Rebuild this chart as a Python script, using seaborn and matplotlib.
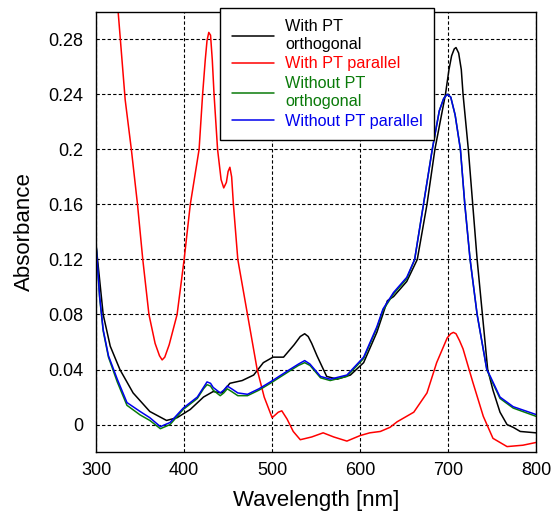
import matplotlib
matplotlib.use('Agg')
import matplotlib.pyplot as plt
import seaborn as sns

# ---- data ----
wl_black = [300, 304, 308, 316, 327, 342, 361, 380, 392, 407, 422, 433, 443, 452, 466, 479, 490, 501,
            513, 525, 532, 537, 541, 545, 551, 562, 574, 589, 604, 619, 631, 638, 653, 665, 676, 685, 697,
            701, 704, 707, 709, 712, 715, 717, 723, 728, 733, 739, 745, 751, 759, 767, 774, 782, 800]
abs_black = [0.130, 0.105, 0.080, 0.057, 0.040, 0.023, 0.0095, 0.003, 0.005, 0.011, 0.020, 0.024, 0.023,
             0.030, 0.032, 0.036, 0.045, 0.049, 0.049, 0.058, 0.064, 0.066, 0.064, 0.059, 0.050, 0.035,
             0.033, 0.036, 0.045, 0.067, 0.090, 0.093, 0.104, 0.120, 0.160, 0.200, 0.240, 0.258, 0.268,
             0.273, 0.274, 0.270, 0.258, 0.240, 0.200, 0.160, 0.120, 0.080, 0.040, 0.025, 0.009, 0.000,
             -0.002, -0.005, -0.006]

wl_red = [300, 325, 333, 340, 347, 353, 360, 367, 372, 375, 378, 383, 392, 400, 407, 417, 421, 424, 426,
          428, 430, 432, 434, 438, 442, 445, 448, 450, 452, 454, 456, 461, 472, 483, 491, 500, 507, 511,
          517, 524, 532, 545, 558, 570, 585, 600, 611, 623, 634, 642, 661, 676, 687, 699, 703, 706, 709,
          713, 717, 728, 740, 751, 767, 785, 800]
abs_red = [0.45, 0.300, 0.236, 0.200, 0.160, 0.120, 0.080, 0.059, 0.050, 0.047, 0.049, 0.058, 0.080, 0.120,
           0.160, 0.200, 0.240, 0.265, 0.279, 0.285, 0.283, 0.265, 0.240, 0.200, 0.178, 0.172, 0.176, 0.184,
           0.187, 0.180, 0.160, 0.120, 0.080, 0.040, 0.020, 0.005, 0.009, 0.010, 0.004, -0.005, -0.011,
           -0.009, -0.006, -0.009, -0.012, -0.008, -0.006, -0.005, -0.002, 0.002, 0.009, 0.023, 0.045, 0.063,
           0.066, 0.067, 0.066, 0.061, 0.055, 0.031, 0.006, -0.010, -0.016, -0.015, -0.013]

wl_green = [300, 304, 308, 314, 324, 335, 350, 361, 373, 384, 399, 415, 422, 426, 430, 433, 441, 445, 449,
            454, 461, 472, 485, 498, 520, 530, 537, 543, 555, 566, 585, 604, 619, 626, 638, 653, 662, 672,
            682, 690, 695, 699, 703, 708, 714, 719, 725, 733, 744, 748, 759, 774, 800]
abs_green = [0.130, 0.092, 0.068, 0.049, 0.031, 0.014, 0.007, 0.003, -0.003, 0.000, 0.011, 0.019, 0.026,
             0.029, 0.028, 0.025, 0.021, 0.023, 0.026, 0.024, 0.021, 0.021, 0.025, 0.030, 0.039, 0.043,
             0.045, 0.043, 0.034, 0.032, 0.035, 0.048, 0.070, 0.083, 0.095, 0.106, 0.120, 0.160, 0.200,
             0.228, 0.237, 0.240, 0.238, 0.225, 0.200, 0.160, 0.120, 0.080, 0.040, 0.034, 0.019, 0.012, 0.006]

wl_blue = [300, 304, 308, 314, 324, 335, 350, 361, 373, 384, 399, 415, 422, 426, 430, 433, 441, 445, 449,
           454, 461, 472, 485, 498, 520, 530, 537, 543, 555, 566, 585, 604, 619, 626, 638, 653, 662, 672,
           682, 690, 695, 699, 703, 708, 714, 719, 725, 733, 744, 748, 759, 774, 800]
abs_blue = [0.130, 0.093, 0.069, 0.050, 0.033, 0.016, 0.0095, 0.005, -0.0015, 0.0015, 0.012, 0.020, 0.027,
            0.031, 0.030, 0.027, 0.023, 0.025, 0.028, 0.026, 0.023, 0.022, 0.026, 0.031, 0.040, 0.044,
            0.0465, 0.044, 0.035, 0.033, 0.036, 0.049, 0.071, 0.084, 0.096, 0.107, 0.120, 0.160, 0.200,
            0.228, 0.237, 0.240, 0.238, 0.225, 0.200, 0.160, 0.120, 0.080, 0.040, 0.035, 0.020, 0.013, 0.0073]

labels = ['With PT\northogonal', 'With PT parallel', 'Without PT\northogonal', 'Without PT parallel']
colors = ['#000000', '#ff0000', '#0a7a0a', '#0000ee']
x_ticks = [300, 400, 500, 600, 700, 800]
y_ticks = [0, 0.04, 0.08, 0.12, 0.16, 0.2, 0.24, 0.28]
y_tick_labels = ['0', '0.04', '0.08', '0.12', '0.16', '0.2', '0.24', '0.28']

sns.set_style("white")
plt.rcParams['font.family'] = ['Liberation Sans', 'DejaVu Sans']
plt.rcParams.update({'text.color': 'black', 'axes.labelcolor': 'black',
                     'xtick.color': 'black', 'ytick.color': 'black'})

fig = plt.figure(figsize=(5.59, 5.12), dpi=100)
ax = fig.add_axes([0.172, 0.117, 0.787, 0.860])

series = [(wl_black, abs_black), (wl_red, abs_red), (wl_green, abs_green), (wl_blue, abs_blue)]
for (xs, ys), lab, col in zip(series, labels, colors):
    sns.lineplot(x=xs, y=ys, ax=ax, color=col, label=lab, linewidth=1.1, estimator=None, sort=False)

ax.set_xlim(300, 800)
ax.set_ylim(-0.02, 0.30)
ax.set_xticks(x_ticks)
ax.set_yticks(y_ticks)
ax.set_yticklabels(y_tick_labels)
ax.tick_params(direction='in', labelsize=13, length=4, color='black')
ax.tick_params(axis='y', pad=9)
ax.tick_params(axis='x', pad=7)
ax.grid(True, color='black', linestyle=(0, (3, 2)), linewidth=0.8)
for sp in ax.spines.values():
    sp.set_color('black')
    sp.set_linewidth(1.0)

ax.set_xlabel('Wavelength [nm]', fontsize=16, labelpad=8)
ax.set_ylabel('Absorbance', fontsize=16, labelpad=10)

leg = ax.legend(loc='upper left', bbox_to_anchor=(0.282, 1.009), borderaxespad=0,
                fontsize=11.7, labelcolor='linecolor', handlelength=2.6, handletextpad=0.7,
                labelspacing=0.3, borderpad=0.7, fancybox=False, framealpha=1, edgecolor='black')
leg.get_frame().set_linewidth(1.0)
leg.set_zorder(5)

plt.savefig('out.png', dpi=100)
